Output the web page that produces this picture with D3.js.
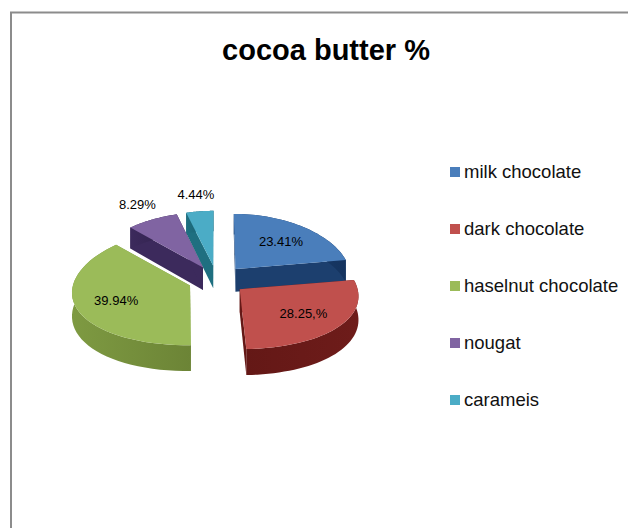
<!DOCTYPE html>
<html>
<head>
<meta charset="utf-8">
<script src="https://cdn.jsdelivr.net/npm/d3@7/dist/d3.min.js"></script>
<style>
  html, body { margin: 0; padding: 0; background: #fff; }
  svg { display: block; font-family: "Liberation Sans", Arial, sans-serif; }
</style>
</head>
<body>
<svg id="chart" width="628" height="528"></svg>
<script>
// Cocoa butter share by confectionery type
const title = "cocoa butter %";
const categories = ["milk chocolate", "dark chocolate", "haselnut chocolate", "nougat", "carameis"];
const values = [23.41, 28.25, 39.94, 8.29, 4.44];
const valueLabels = ["23.41%", "28.25,%", "39.94%", "8.29%", "4.44%"];
const topColors = ["#4a7ebb", "#c0504d", "#9bbb59", "#8064a2", "#4bacc6"];
const wallColors = ["#1c3f6e", "#641816", "#7e9a42", "#3c2a5c", "#1f6f80"];
const wallShades = ["#15345f", "#6e1c1a", "#6c8436", "#2e2049", "#175a69"];

const svg = d3.select("#chart");
const W = 628, H = 528;

// Chart frame: open on the right and bottom where the page is cropped
svg.append("path")
  .attr("d", d3.line()([[W, 12.5], [11, 12.5], [11, H]]))
  .attr("fill", "none")
  .attr("stroke", "#8c8c8c")
  .attr("stroke-width", 2);

svg.append("text")
  .attr("x", 326)
  .attr("y", 60)
  .attr("text-anchor", "middle")
  .attr("font-size", 29)
  .attr("font-weight", "bold")
  .attr("fill", "#000")
  .text(title);

// Perspective view of a unit disc; v points away from the viewer
const view = { cx: 217, cy: 280, rx: 116, ry: 57.5, perspX: 0.1, perspY: 0.03, depth: 23, explode: 0.25 };

function project(u, v, lowered) {
  const sx = 1 / (1 + view.perspX * v);
  const sy = 1 / (1 + view.perspY * v);
  const x = view.cx + u * view.rx * sx;
  const y = view.cy - v * view.ry * sy + (lowered ? view.depth * sx : 0);
  return [x, y];
}

const pie = d3.pie().sort(null).value(d => d);
const arcs = pie(values);
const line = d3.line();

// Each wedge is offset from the centre along its own mid angle
function wedgeGeometry(arc) {
  const mid = (arc.startAngle + arc.endAngle) / 2;
  const ou = Math.sin(mid) * view.explode;
  const ov = Math.cos(mid) * view.explode;
  const steps = d3.range(0, 41).map(i => arc.startAngle + (arc.endAngle - arc.startAngle) * i / 40);
  const rim = steps.map(a => [ou + Math.sin(a), ov + Math.cos(a)]);
  return { mid, ou, ov, rim };
}

const defs = svg.append("defs");
arcs.forEach((arc, i) => {
  const g = defs.append("linearGradient").attr("id", "wall" + i)
    .attr("x1", 0).attr("x2", 1).attr("y1", 0).attr("y2", 0);
  g.append("stop").attr("offset", 0).attr("stop-color", wallColors[i]);
  g.append("stop").attr("offset", 1).attr("stop-color", wallShades[i]);
});

// Back wedges first so the nearer ones paint over them
const paintOrder = d3.range(arcs.length).sort((a, b) =>
  d3.descending(wedgeGeometry(arcs[a]).ov, wedgeGeometry(arcs[b]).ov));

const pieGroup = svg.append("g");
paintOrder.forEach(i => {
  const { ou, ov, rim } = wedgeGeometry(arcs[i]);
  const g = pieGroup.append("g");
  const ends = [rim[0], rim[rim.length - 1]];
  ends.forEach(e => {
    g.append("path")
      .attr("d", line([project(ou, ov), project(e[0], e[1]), project(e[0], e[1], true), project(ou, ov, true)]) + "Z")
      .attr("fill", wallColors[i]);
  });
  const upper = rim.map(p => project(p[0], p[1]));
  const lower = rim.map(p => project(p[0], p[1], true)).reverse();
  g.append("path")
    .attr("d", line(upper.concat(lower)) + "Z")
    .attr("fill", `url(#wall${i})`);
  g.append("path")
    .attr("d", line([project(ou, ov)].concat(upper)) + "Z")
    .attr("fill", topColors[i]);
});

// Value labels: inside the large wedges, beyond the rim for the small ones
arcs.forEach((arc, i) => {
  const { mid, ou, ov } = wedgeGeometry(arc);
  const share = arc.endAngle - arc.startAngle;
  const reach = share > 1 ? 0.66 : 1.33;
  const [x, y] = project(ou + Math.sin(mid) * reach, ov + Math.cos(mid) * reach);
  svg.append("text")
    .attr("x", x)
    .attr("y", y)
    .attr("dy", "0.35em")
    .attr("text-anchor", "middle")
    .attr("font-size", 13)
    .attr("fill", "#000")
    .text(valueLabels[i]);
});

// Legend
const legendY = d3.scalePoint().domain(categories).range([172, 400]);
const legend = svg.append("g").selectAll("g").data(categories).join("g")
  .attr("transform", d => `translate(450,${legendY(d)})`);
legend.append("rect")
  .attr("x", 0).attr("y", -5).attr("width", 10).attr("height", 10)
  .attr("fill", (d, i) => topColors[i]);
legend.append("text")
  .attr("x", 14)
  .attr("dy", "0.35em")
  .attr("font-size", 18.5)
  .attr("fill", "#111")
  .text(d => d);
</script>
</body>
</html>
